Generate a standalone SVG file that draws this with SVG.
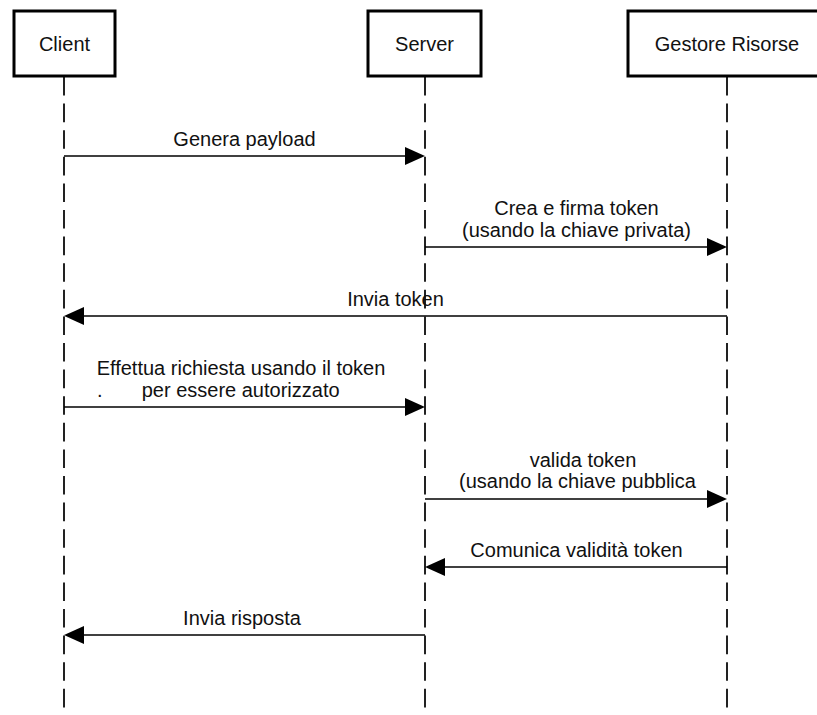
<svg xmlns="http://www.w3.org/2000/svg" width="817" height="715" viewBox="0 0 817 715">
  <style>
    .box { fill: #ffffff; stroke: #000000; stroke-width: 3; }
    .life { stroke: #222222; stroke-width: 2; stroke-dasharray: 18.6 8; fill: none; }
    .msg { stroke: #000000; stroke-width: 1.6; fill: none; }
    .head { fill: #000000; }
    text { font-family: "Liberation Sans", Arial, Helvetica, sans-serif; font-size: 20px; fill: #111111; }
    .c { text-anchor: middle; }
  </style>
  <rect width="817" height="715" fill="#ffffff"/>

  <!-- participants -->
  <g id="client">
    <line class="life" x1="64" y1="77" x2="64" y2="708"/>
    <rect class="box" x="14" y="11" width="101" height="65"/>
    <text class="c" x="64.5" y="51">Client</text>
  </g>
  <g id="server">
    <line class="life" x1="425" y1="77" x2="425" y2="708"/>
    <rect class="box" x="368" y="11" width="113" height="65"/>
    <text class="c" x="424.5" y="51">Server</text>
  </g>
  <g id="gestore-risorse">
    <line class="life" x1="727" y1="77" x2="727" y2="708"/>
    <rect class="box" x="628" y="11" width="200" height="65"/>
    <text class="c" x="727" y="51">Gestore Risorse</text>
  </g>

  <!-- messages -->
  <g id="connectors">
    <!-- Client -> Server -->
    <line class="msg" x1="64" y1="156" x2="406" y2="156"/>
    <polygon class="head" points="425,156 405,147 405,165"/>
    <!-- Server -> Gestore -->
    <line class="msg" x1="425" y1="247" x2="708" y2="247"/>
    <polygon class="head" points="727,247 707,238 707,256"/>
    <!-- Gestore -> Client -->
    <line class="msg" x1="727" y1="316" x2="83" y2="316"/>
    <polygon class="head" points="64,316 84,307 84,325"/>
    <!-- Client -> Server -->
    <line class="msg" x1="64" y1="407" x2="406" y2="407"/>
    <polygon class="head" points="425,407 405,398 405,416"/>
    <!-- Server -> Gestore -->
    <line class="msg" x1="425" y1="499" x2="708" y2="499"/>
    <polygon class="head" points="727,499 707,490 707,508"/>
    <!-- Gestore -> Server -->
    <line class="msg" x1="727" y1="567" x2="444" y2="567"/>
    <polygon class="head" points="425,567 445,558 445,576"/>
    <!-- Server -> Client -->
    <line class="msg" x1="425" y1="635" x2="83" y2="635"/>
    <polygon class="head" points="64,635 84,626 84,644"/>
  </g>

  <!-- message labels -->
  <g id="labels">
    <text class="c" x="244.5" y="146">Genera payload</text>
    <text class="c" x="576.5" y="215">Crea e firma token</text>
    <text class="c" x="576.5" y="237">(usando la chiave privata)</text>
    <text class="c" x="395.5" y="306">Invia token</text>
    <text class="c" x="241" y="375">Effettua richiesta usando il token</text>
    <text y="397"><tspan x="97">.</tspan><tspan x="141.7">per essere autorizzato</tspan></text>
    <text class="c" x="583" y="467">valida token</text>
    <text class="c" x="577.5" y="488">(usando la chiave pubblica</text>
    <text class="c" x="576.5" y="557">Comunica validità token</text>
    <text class="c" x="242" y="625">Invia risposta</text>
  </g>
</svg>
